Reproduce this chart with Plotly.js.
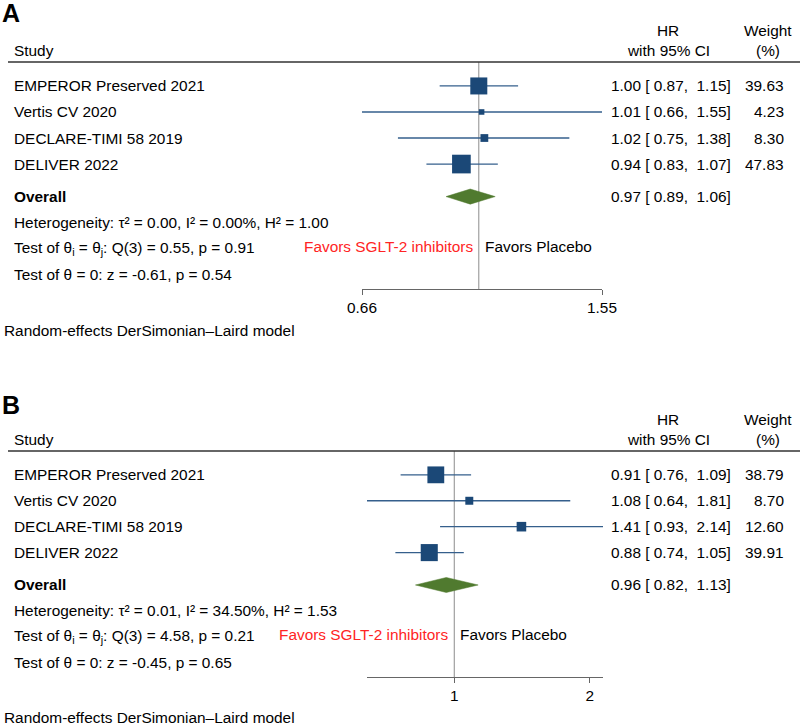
<!DOCTYPE html>
<html><head><meta charset="utf-8">
<script src="https://cdn.plot.ly/plotly-3.0.1.min.js"></script>
<style>html,body{margin:0;padding:0;background:#fff}</style>
</head><body><div id="chart" style="width:800px;height:726px"></div>
<script>
// ---------- data ----------
const studies = ["EMPEROR Preserved 2021", "Vertis CV 2020", "DECLARE-TIMI 58 2019", "DELIVER 2022"];
// Panel A
const hrA = [1.00, 1.01, 1.02, 0.94];
const loA = [0.87, 0.66, 0.75, 0.83];
const hiA = [1.15, 1.55, 1.38, 1.07];
const wA  = [39.63, 4.23, 8.30, 47.83];
const overallA = [0.97, 0.89, 1.06];
const ticksA = [0.66, 1.55];
// Panel B
const hrB = [0.91, 1.08, 1.41, 0.88];
const loB = [0.76, 0.64, 0.93, 0.74];
const hiB = [1.09, 1.81, 2.14, 1.05];
const wB  = [38.79, 8.70, 12.60, 39.91];
const overallB = [0.96, 0.82, 1.13];
const ticksB = [1, 2];
// heterogeneity stats [A, B]
const tau2 = [0.00, 0.01];
const I2   = [0.00, 34.50];
const H2   = [1.00, 1.53];
const Qdf  = [3, 3];
const Q    = [0.55, 4.58];
const Qp   = [0.91, 0.21];
const Z    = [-0.61, -0.45];
const Zp   = [0.54, 0.65];
const panelLabels = ["A", "B"];

// ---------- styling ----------
const W = 800, H = 726;
const FONT = "Liberation Sans, Arial, Helvetica, sans-serif";
const FS = 15.4;
const SQ = "#1b4877", CI = "#355f8c", DIA = "#507a2f", RED = "#ff2424";
const px = x => x / W, py = y => 1 - y / H;
const f2 = v => v.toFixed(2);
const pad = s => (s.length < 5 ? "\u00a0" : "") + s;
const ROW_TOP = -0.92, ROW_BOT = 7.8, OVR = 4.25;

const panels = [
  {hr: hrA, lo: loA, hi: hiA, w: wA, ov: overallA, ticks: ticksA,
   xdom: [362, 602], ytop: 62, ybot: 289, letterY: 13},
  {hr: hrB, lo: loB, hi: hiB, w: wB, ov: overallB, ticks: ticksB,
   xdom: [367, 603], ytop: 451, ybot: 677, letterY: 405}
];

const traces = [], annotations = [], shapes = [];
const layout = {
  width: W, height: H, margin: {l: 0, r: 0, t: 0, b: 0},
  paper_bgcolor: "#fff", plot_bgcolor: "rgba(0,0,0,0)", showlegend: false,
  font: {family: FONT, size: FS, color: "#000"},
  annotations, shapes
};

panels.forEach((p, k) => {
  const xa = k === 0 ? "x" : "x2", ya = k === 0 ? "y" : "y2";
  const xKey = k === 0 ? "xaxis" : "xaxis2", yKey = k === 0 ? "yaxis" : "yaxis2";
  const xmin = Math.min(...p.lo), xmax = Math.max(...p.hi);
  const rowPx = (p.ybot - p.ytop) / (ROW_BOT - ROW_TOP);
  const rowToPaper = r => py(p.ytop + (r - ROW_TOP) * rowPx);
  layout[xKey] = {
    type: "log", range: [Math.log10(xmin), Math.log10(xmax)],
    domain: [px(p.xdom[0]), px(p.xdom[1])], anchor: ya,
    showline: true, linecolor: "#666", linewidth: 1,
    ticks: "outside", ticklen: 5, tickcolor: "#666",
    tickvals: p.ticks, ticktext: p.ticks.map(String),
    tickfont: {family: FONT, size: FS, color: "#000"},
    showgrid: false, zeroline: false, fixedrange: true
  };
  layout[yKey] = {
    range: [ROW_BOT, ROW_TOP], domain: [py(p.ybot), py(p.ytop)], anchor: xa,
    visible: false, fixedrange: true
  };
  // null line
  traces.push({x: [1, 1], y: [ROW_TOP, ROW_BOT], xaxis: xa, yaxis: ya, mode: "lines",
    line: {color: "#8c8c8c", width: 1}, hoverinfo: "skip"});
  // CI lines
  p.hr.forEach((v, i) => {
    traces.push({x: [p.lo[i], p.hi[i]], y: [i, i], xaxis: xa, yaxis: ya, mode: "lines",
      line: {color: CI, width: 1.3}, hoverinfo: "skip"});
  });
  // squares
  traces.push({x: p.hr, y: p.hr.map((_, i) => i), xaxis: xa, yaxis: ya, mode: "markers",
    marker: {symbol: "square", color: SQ, opacity: 1, size: p.w.map(w => 2.7 * Math.sqrt(w)), line: {width: 0}},
    cliponaxis: false, hoverinfo: "skip"});
  // diamond
  const dh = 0.29;
  traces.push({x: [p.ov[1], p.ov[0], p.ov[2], p.ov[0], p.ov[1]],
    y: [OVR, OVR - dh, OVR, OVR + dh, OVR], xaxis: xa, yaxis: ya, mode: "lines",
    fill: "toself", fillcolor: DIA, line: {color: DIA, width: 0.5}, hoverinfo: "skip"});

  const addT = (text, x, r, anchor, extra) => annotations.push(Object.assign({
    text, x: px(x), xref: "paper", y: rowToPaper(r), yref: "paper", xanchor: anchor, yanchor: "middle",
    showarrow: false, font: {family: FONT, size: FS, color: "#000"}
  }, extra || {}));

  // panel letter
  annotations.push({text: "<b>" + panelLabels[k] + "</b>", x: 0, xref: "paper", y: py(p.letterY),
    yref: "paper", xanchor: "left", yanchor: "middle", showarrow: false,
    font: {family: FONT, size: 25, color: "#000"}});
  // header
  addT("Study", 12, ROW_TOP - 0.44, "left");
  addT("HR", 668, ROW_TOP - 1.21, "center");
  addT("with 95% CI", 668, ROW_TOP - 0.44, "center");
  addT("Weight", 768, ROW_TOP - 1.21, "center");
  addT("(%)", 768, ROW_TOP - 0.44, "center");
  shapes.push({type: "line", xref: "paper", yref: "paper", x0: px(8), x1: 1,
    y0: py(p.ytop), y1: py(p.ytop), line: {color: "#333", width: 1.5}});
  // rows
  studies.forEach((s, i) => {
    addT(s, 12, i, "left");
    addT(f2(p.hr[i]) + " [ " + f2(p.lo[i]) + ", " + pad(f2(p.hi[i])) + "]", 609, i, "left");
    addT(f2(p.w[i]), 786, i, "right");
  });
  addT("<b>Overall</b>", 12, OVR, "left");
  addT(f2(p.ov[0]) + " [ " + f2(p.ov[1]) + ", " + pad(f2(p.ov[2])) + "]", 609, OVR, "left");
  addT("Heterogeneity: \u03c4\u00b2 = " + f2(tau2[k]) + ", I\u00b2 = " + f2(I2[k]) + "%, H\u00b2 = " + f2(H2[k]),
    12, OVR + 1, "left");
  addT("Test of \u03b8<sub>i</sub> = \u03b8<sub>j</sub>: Q(" + Qdf[k] + ") = " + f2(Q[k]) + ", p = " + f2(Qp[k]),
    12, OVR + 2, "left");
  addT("Test of \u03b8 = 0: z = " + f2(Z[k]) + ", p = " + f2(Zp[k]), 12, OVR + 3, "left");
  // favors
  annotations.push({text: "Favors SGLT-2 inhibitors", x: 0, xref: xa, y: OVR + 2 - 0.1, yref: ya,
    xanchor: "right", yanchor: "middle", xshift: -4, showarrow: false,
    font: {family: FONT, size: FS, color: RED}});
  annotations.push({text: "Favors Placebo", x: 0, xref: xa, y: OVR + 2 - 0.1, yref: ya,
    xanchor: "left", yanchor: "middle", xshift: 4, showarrow: false,
    font: {family: FONT, size: FS, color: "#000"}});
  addT("Random-effects DerSimonian\u2013Laird model", 2, ROW_BOT + 1.58, "left");
});

Plotly.newPlot("chart", traces, layout, {staticPlot: true, displayModeBar: false});
</script>
</body></html>
